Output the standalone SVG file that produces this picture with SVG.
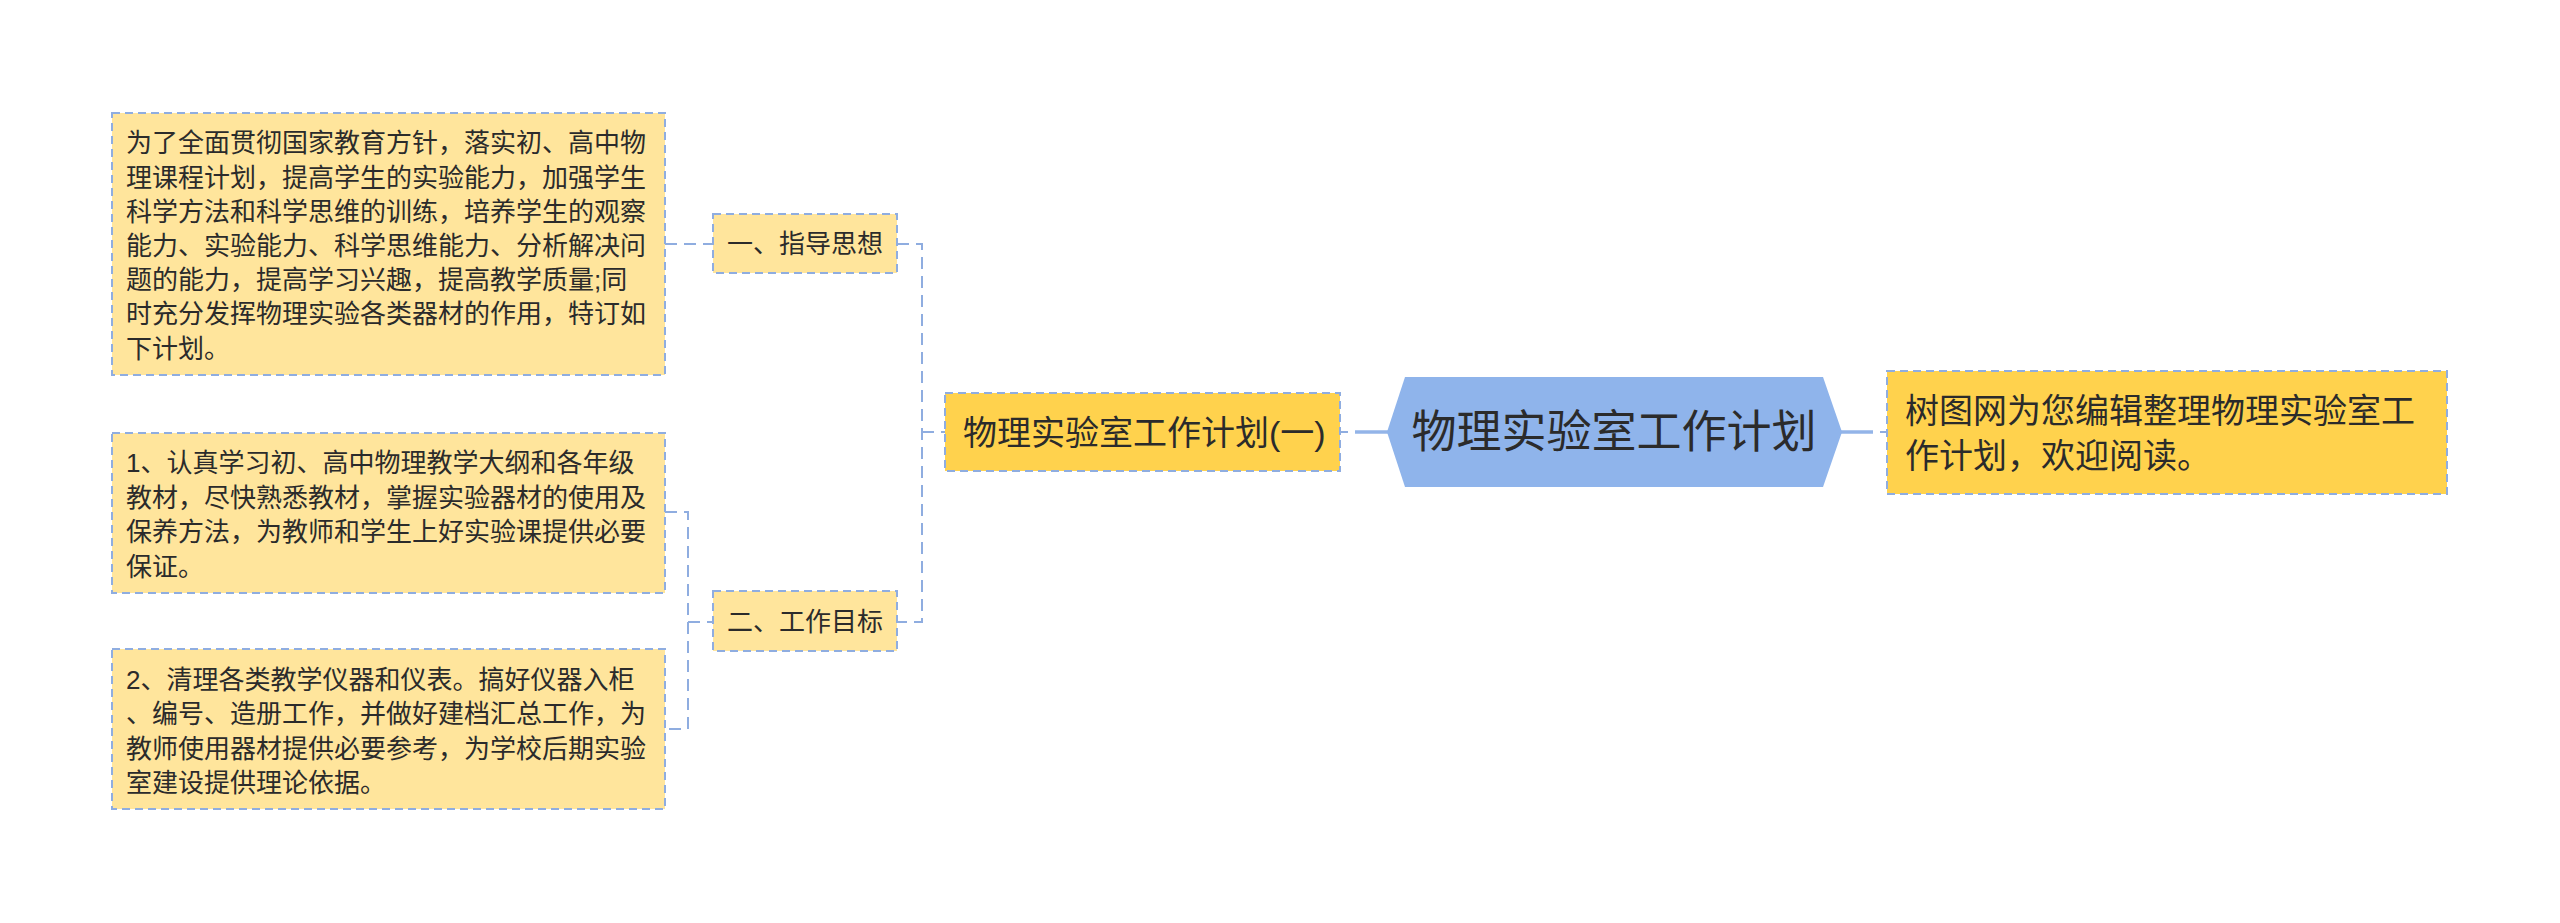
<svg xmlns="http://www.w3.org/2000/svg" width="2560" height="923" viewBox="0 0 2560 923">
<style>
  text { font-family: "Liberation Sans", "Noto Sans CJK SC", sans-serif; fill: #2b2b2b; dominant-baseline: central; }
  .light { fill: #FFE59C; stroke: #8FADE0; stroke-width: 2; stroke-dasharray: 8 5; }
  .dark { fill: #FFD24D; stroke: #8FADE0; stroke-width: 2; stroke-dasharray: 8 5; }
  .dash { fill: none; stroke: #8FADE0; stroke-width: 2; stroke-dasharray: 12 7; }
  .solid { fill: none; stroke: #93B4E8; stroke-width: 3.5; }
  .t26 { font-size: 26px; }
  .t34 { font-size: 34px; }
  .t45 { font-size: 45px; }
</style>
<rect width="2560" height="923" fill="#FFFFFF"/>

<g id="connectors">
  <line class="dash" x1="665" y1="244" x2="713" y2="244"/>
  <polyline class="dash" points="897,244 922,244 922,622 897,622"/>
  <line class="dash" x1="922" y1="432" x2="945" y2="432"/>
  <polyline class="dash" points="665,512 688,512 688,729 665,729"/>
  <line class="dash" x1="688" y1="622" x2="713" y2="622"/>
  <line class="dash" x1="1340" y1="432" x2="1348" y2="432"/>
  <line class="solid" x1="1355" y1="432" x2="1388" y2="432"/>
  <line class="solid" x1="1840" y1="432" x2="1873" y2="432"/>
  <line class="dash" x1="1880" y1="432" x2="1887" y2="432"/>
</g>

<g id="root">
  <polygon points="1387,432 1405,377 1823,377 1842,432 1823,487 1405,487" fill="#8FB4EB"/>
  <text class="t45" x="1614" y="432" text-anchor="middle">物理实验室工作计划</text>
</g>

<g id="summary">
  <rect class="dark" x="1887" y="371" width="560" height="123"/>
  <text class="t34" x="1905" y="411">树图网为您编辑整理物理实验室工</text>
  <text class="t34" x="1905" y="456">作计划，欢迎阅读。</text>
</g>

<g id="plan1">
  <rect class="dark" x="945" y="393" width="395" height="78"/>
  <text class="t34" x="963" y="433">物理实验室工作计划(一)</text>
</g>

<g id="guide">
  <rect class="light" x="713" y="214" width="184" height="59"/>
  <text class="t26" x="727" y="244">一、指导思想</text>
</g>

<g id="goal">
  <rect class="light" x="713" y="591" width="184" height="60"/>
  <text class="t26" x="727" y="622">二、工作目标</text>
</g>

<g id="guide-text">
  <rect class="light" x="112" y="113" width="553" height="262"/>
  <text class="t26" x="126" y="143.3">为了全面贯彻国家教育方针，落实初、高中物</text>
  <text class="t26" x="126" y="177.5">理课程计划，提高学生的实验能力，加强学生</text>
  <text class="t26" x="126" y="211.7">科学方法和科学思维的训练，培养学生的观察</text>
  <text class="t26" x="126" y="245.9">能力、实验能力、科学思维能力、分析解决问</text>
  <text class="t26" x="126" y="280.1">题的能力，提高学习兴趣，提高教学质量;同</text>
  <text class="t26" x="126" y="314.3">时充分发挥物理实验各类器材的作用，特订如</text>
  <text class="t26" x="126" y="348.5">下计划。</text>
</g>

<g id="goal-1">
  <rect class="light" x="112" y="433" width="553" height="160"/>
  <text class="t26" x="126" y="463.3">1、认真学习初、高中物理教学大纲和各年级</text>
  <text class="t26" x="126" y="497.7">教材，尽快熟悉教材，掌握实验器材的使用及</text>
  <text class="t26" x="126" y="532.1">保养方法，为教师和学生上好实验课提供必要</text>
  <text class="t26" x="126" y="566.5">保证。</text>
</g>

<g id="goal-2">
  <rect class="light" x="112" y="649" width="553" height="160"/>
  <text class="t26" x="126" y="680">2、清理各类教学仪器和仪表。搞好仪器入柜</text>
  <text class="t26" x="126" y="714.3">、编号、造册工作，并做好建档汇总工作，为</text>
  <text class="t26" x="126" y="748.6">教师使用器材提供必要参考，为学校后期实验</text>
  <text class="t26" x="126" y="782.9">室建设提供理论依据。</text>
</g>
</svg>
